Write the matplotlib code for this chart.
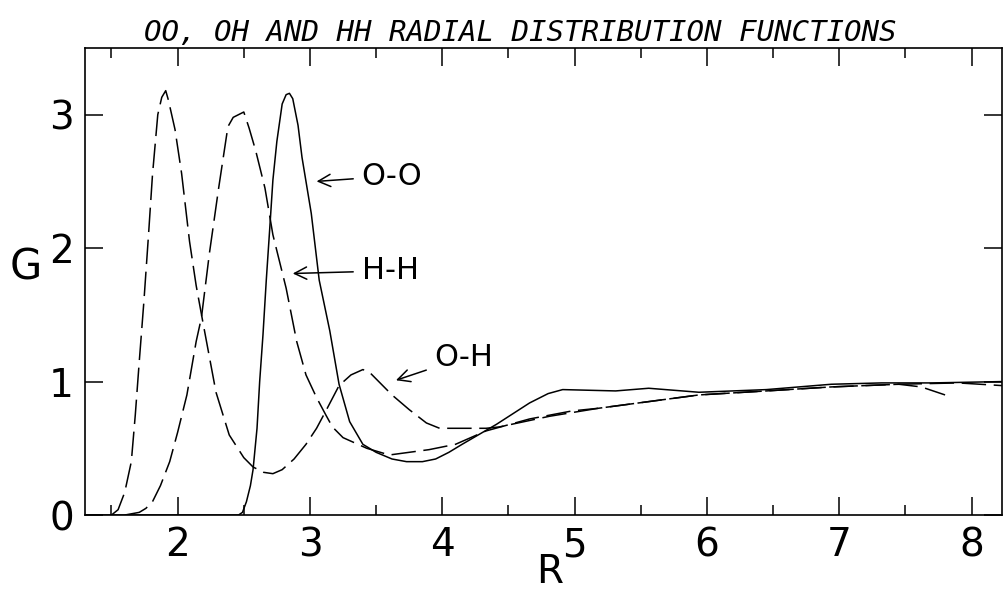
import matplotlib
matplotlib.use("Agg")
import matplotlib.pyplot as plt

# valeurs (R, G)
r_oh = [1.50, 1.55, 1.60, 1.65, 1.68, 1.71, 1.745, 1.78, 1.81, 1.85, 1.88, 1.91, 1.93, 1.98,
        2.03, 2.09, 2.14, 2.19, 2.29, 2.39, 2.50, 2.57, 2.65, 2.72, 2.79, 2.88, 2.97, 3.05,
        3.12, 3.22, 3.31, 3.40, 3.45, 3.50, 3.62, 3.75, 3.88, 3.98, 4.18, 4.33, 4.43, 4.81,
        5.18, 5.56, 5.94, 6.45, 6.94, 7.45, 7.62, 7.80]
g_oh = [0.00, 0.04, 0.17, 0.40, 0.75, 1.15, 1.60, 2.10, 2.55, 3.00, 3.13, 3.18, 3.11, 2.89,
        2.56, 2.05, 1.72, 1.45, 0.92, 0.60, 0.43, 0.36, 0.32, 0.31, 0.34, 0.42, 0.53, 0.65,
        0.78, 0.97, 1.05, 1.09, 1.07, 1.02, 0.90, 0.79, 0.69, 0.65, 0.65, 0.65, 0.66, 0.74,
        0.80, 0.85, 0.90, 0.93, 0.96, 0.98, 0.96, 0.90]

r_hh = [1.60, 1.71, 1.76, 1.81, 1.87, 1.94, 2.00, 2.07, 2.14, 2.18, 2.24, 2.31, 2.38, 2.42,
        2.50, 2.54, 2.59, 2.66, 2.72, 2.82, 2.90, 2.97, 3.05, 3.12, 3.17, 3.25, 3.43, 3.60,
        3.90, 4.10, 4.33, 4.66, 4.98, 5.18, 5.56, 5.94, 6.45, 6.94, 7.45, 7.90, 8.23]
g_hh = [0.00, 0.02, 0.05, 0.10, 0.22, 0.40, 0.62, 0.90, 1.30, 1.48, 1.96, 2.45, 2.91, 2.98,
        3.02, 2.90, 2.73, 2.45, 2.10, 1.70, 1.30, 1.05, 0.88, 0.75, 0.66, 0.58, 0.50, 0.45,
        0.49, 0.53, 0.63, 0.72, 0.78, 0.80, 0.85, 0.90, 0.93, 0.96, 0.98, 0.99, 0.97]

r_oo = [1.30, 2.46, 2.49, 2.52, 2.55, 2.57, 2.60, 2.62, 2.645, 2.67, 2.695, 2.72, 2.75, 2.79,
        2.82, 2.845, 2.87, 2.91, 2.94, 3.01, 3.07, 3.15, 3.22, 3.30, 3.40, 3.50, 3.62, 3.73,
        3.85, 3.95, 4.05, 4.15, 4.41, 4.66, 4.80, 4.91, 5.31, 5.56, 5.94, 6.45, 6.94, 7.32,
        7.70, 8.23]
g_oo = [0.00, 0.00, 0.02, 0.10, 0.22, 0.34, 0.65, 1.00, 1.35, 1.76, 2.13, 2.51, 2.80, 3.08,
        3.15, 3.16, 3.12, 2.92, 2.68, 2.26, 1.76, 1.38, 0.98, 0.70, 0.53, 0.47, 0.42, 0.40,
        0.40, 0.42, 0.47, 0.53, 0.68, 0.84, 0.91, 0.94, 0.93, 0.95, 0.92, 0.94, 0.98, 0.99,
        0.99, 1.00]

x_ticks = [2, 3, 4, 5, 6, 7, 8]
x_minor = [1.5, 2.5, 3.5, 4.5, 5.5, 6.5, 7.5]
y_ticks = [0, 1, 2, 3]

fig = plt.figure(figsize=(10.06, 5.92), dpi=100)
ax = fig.add_axes([0.0845, 0.130, 0.9115, 0.789])

ax.plot(r_oo, g_oo, color="black", lw=1.1)
ax.plot(r_hh, g_hh, color="black", lw=1.1, dashes=(16, 5))
ax.plot(r_oh, g_oh, color="black", lw=1.1, dashes=(16, 5))

ax.set_xlim(1.30, 8.23)
ax.set_ylim(0, 3.5)
ax.set_xticks(x_ticks)
ax.set_xticks(x_minor, minor=True)
ax.set_yticks(y_ticks)
ax.tick_params(axis="both", direction="in", top=True, right=True, labelsize=28,
               width=1.1, length=13, pad=8)
ax.tick_params(axis="x", which="minor", direction="in", top=True, length=7, width=1.1)
for s in ax.spines.values():
    s.set_linewidth(1.2)

fig.text(550 / 1006, 1 - 572 / 592, "R", fontsize=28, ha="center", va="center")
fig.text(26 / 1006, 1 - 268 / 592, "G", fontsize=30, ha="center", va="center")
fig.text(0.517, 1 - 33 / 592, "OO, OH AND HH RADIAL DISTRIBUTION FUNCTIONS",
         fontsize=21, family="DejaVu Sans Mono", style="italic", ha="center", va="center")

fleche = dict(arrowstyle="->", lw=1.1, color="black", shrinkA=4, shrinkB=0)
ax.annotate("O-O", xy=(3.05, 2.50), xytext=(3.39, 2.54), fontsize=22, va="center",
            arrowprops=fleche)
ax.annotate("H-H", xy=(2.87, 1.81), xytext=(3.39, 1.83), fontsize=22, va="center",
            arrowprops=fleche)
ax.annotate("O-H", xy=(3.65, 1.01), xytext=(3.94, 1.18), fontsize=22, va="center",
            arrowprops=fleche)

plt.savefig("out.png", dpi=100)
